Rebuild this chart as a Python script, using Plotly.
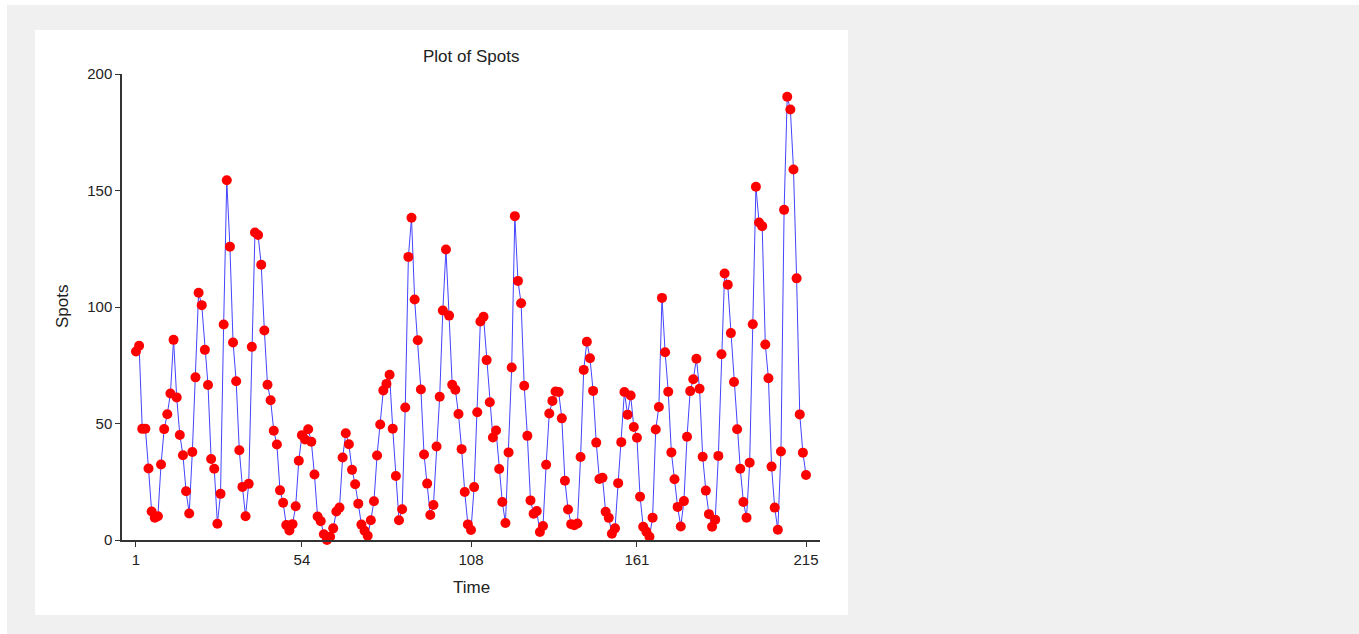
import plotly.graph_objects as go

spots = [80.9, 83.4, 47.7, 47.8, 30.7, 12.2, 9.6, 10.2, 32.4, 47.6,
         54.0, 62.9, 85.9, 61.2, 45.1, 36.4, 20.9, 11.4, 37.8, 69.8,
         106.1, 100.8, 81.6, 66.5, 34.8, 30.6, 7.0, 19.8, 92.5, 154.4,
         125.9, 84.8, 68.1, 38.5, 22.8, 10.2, 24.1, 82.9, 132.0, 130.9,
         118.1, 89.9, 66.6, 60.0, 46.9, 41.0, 21.3, 16.0, 6.4, 4.1,
         6.8, 14.5, 34.0, 45.0, 43.1, 47.5, 42.2, 28.1, 10.1, 8.1,
         2.5, 0.0, 1.4, 5.0, 12.2, 13.9, 35.4, 45.8, 41.1, 30.1,
         23.9, 15.6, 6.6, 4.0, 1.8, 8.5, 16.6, 36.3, 49.6, 64.2,
         67.0, 70.9, 47.8, 27.5, 8.5, 13.2, 56.9, 121.5, 138.3, 103.2,
         85.7, 64.6, 36.7, 24.2, 10.7, 15.0, 40.1, 61.5, 98.5, 124.7,
         96.3, 66.6, 64.5, 54.1, 39.0, 20.6, 6.7, 4.3, 22.7, 54.8,
         93.8, 95.8, 77.2, 59.1, 44.0, 47.0, 30.5, 16.3, 7.3, 37.6,
         74.0, 139.0, 111.2, 101.6, 66.2, 44.7, 17.0, 11.3, 12.4, 3.4,
         6.0, 32.3, 54.3, 59.7, 63.7, 63.5, 52.2, 25.4, 13.1, 6.8,
         6.3, 7.1, 35.6, 73.0, 85.1, 78.0, 64.0, 41.8, 26.2, 26.7,
         12.1, 9.5, 2.7, 5.0, 24.4, 42.0, 63.5, 53.8, 62.0, 48.5,
         43.9, 18.6, 5.7, 3.6, 1.4, 9.6, 47.4, 57.1, 103.9, 80.6,
         63.6, 37.6, 26.1, 14.2, 5.8, 16.7, 44.3, 63.9, 69.0, 77.8,
         64.9, 35.7, 21.2, 11.1, 5.7, 8.7, 36.1, 79.7, 114.4, 109.6,
         88.8, 67.8, 47.5, 30.6, 16.3, 9.6, 33.2, 92.6, 151.6, 136.3,
         134.7, 83.9, 69.4, 31.5, 13.9, 4.4, 38.0, 141.7, 190.2, 184.8,
         159.0, 112.3, 53.9, 37.5, 27.9]
time = list(range(1, len(spots) + 1))
x_ticks = [1, 54, 108, 161, 215]
y_ticks = [0, 50, 100, 150, 200]

W, H = 1359, 634
L, R, T, B = 122, 820, 74, 540
pw, ph = R - L, B - T

def px(xp):
    return (xp - L) / pw

def py(yp):
    return (B - yp) / ph

font = "Liberation Sans, Arial, sans-serif"

fig = go.Figure()
fig.add_trace(go.Scatter(
    x=time, y=spots, mode="lines+markers",
    line=dict(color="#4444ff", width=1),
    marker=dict(color="#ff0000", size=10, line=dict(width=0)),
    cliponaxis=False, showlegend=False,
))

fig.update_layout(
    width=W, height=H,
    margin=dict(l=L, r=W - R, t=T, b=H - B, pad=0),
    paper_bgcolor="white", plot_bgcolor="white",
    font=dict(family=font, size=15, color="#222"),
    shapes=[
        dict(type="rect", xref="paper", yref="paper", layer="below",
             x0=px(7), x1=px(1362), y0=py(637), y1=py(5),
             fillcolor="#f0f0f0", line=dict(width=0)),
        dict(type="rect", xref="paper", yref="paper", layer="below",
             x0=px(35), x1=px(848), y0=py(615), y1=py(30),
             fillcolor="white", line=dict(width=0)),
    ],
    annotations=[
        dict(text="Plot of Spots", xref="paper", yref="paper", x=0.5, y=py(56),
             showarrow=False, xanchor="center", yanchor="middle",
             font=dict(size=17, color="#222")),
        dict(text="Time", xref="paper", yref="paper", x=0.5, y=py(587),
             showarrow=False, xanchor="center", yanchor="middle",
             font=dict(size=17, color="#222")),
        dict(text="Spots", xref="paper", yref="paper", x=px(62), y=0.5,
             showarrow=False, xanchor="center", yanchor="middle", textangle=-90,
             font=dict(size=17, color="#222")),
    ],
    xaxis=dict(range=[1 - 14 / 3.134, 215 + 14 / 3.134], tickvals=x_ticks,
               ticks="outside", ticklen=5, tickcolor="#333", showline=True,
               linecolor="#333", linewidth=1.5, showgrid=False, zeroline=False,
               tickfont=dict(size=15)),
    yaxis=dict(range=[0, 200], tickvals=y_ticks, ticks="outside", ticklen=5,
               tickcolor="#333", showline=True, linecolor="#333", linewidth=1.5,
               showgrid=False, zeroline=False, tickfont=dict(size=15)),
)

fig.write_html("out.html")
